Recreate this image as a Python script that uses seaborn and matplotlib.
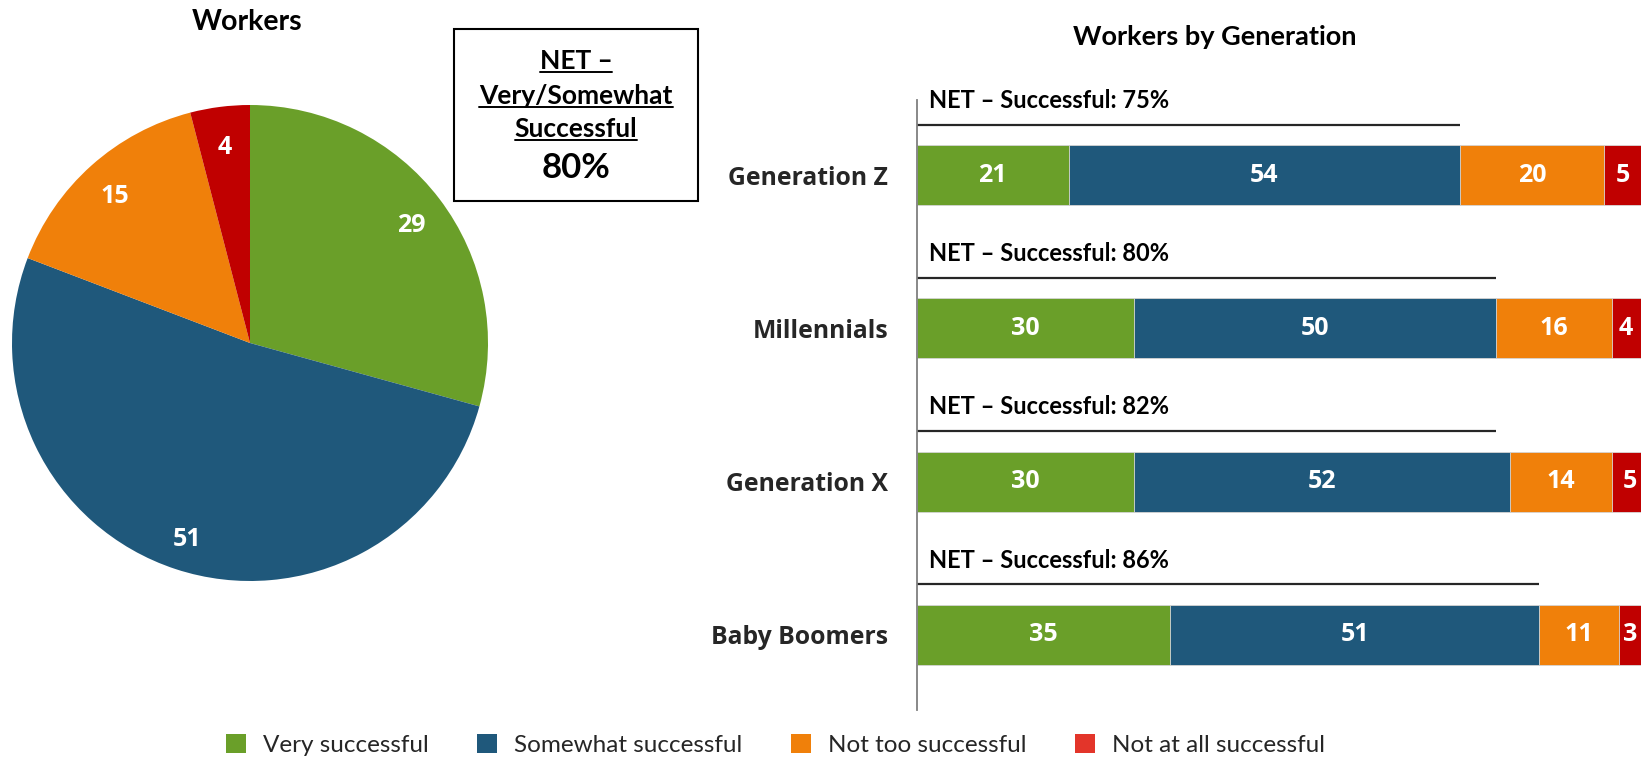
import matplotlib
matplotlib.use("Agg")
import matplotlib.pyplot as plt
import seaborn as sns
import pandas as pd
import numpy as np
from matplotlib.patches import Rectangle, Patch
from matplotlib.lines import Line2D

# ---------------- data ----------------
pie_labels = ["Very successful", "Somewhat successful", "Not too successful", "Not at all successful"]
pie_values = [29, 51, 15, 4]
net_total = 80

generations = ["Generation Z", "Millennials", "Generation X", "Baby Boomers"]
very = [21, 30, 30, 35]
somewhat = [54, 50, 52, 51]
not_too = [20, 16, 14, 11]
not_at_all = [5, 4, 5, 3]
net_values = [75, 80, 82, 86]
net_line_ends = [75, 80, 80, 86]

colors = ["#6A9F29", "#1F587B", "#F0800A", "#C00000"]
legend_colors = ["#6A9F29", "#1F587B", "#F0800A", "#E3352A"]

# ---------------- style ----------------
sns.set_theme(style="white")
plt.rcParams["font.family"] = ["Lato", "DejaVu Sans"]
LABEL_FONT = ["Open Sans", "DejaVu Sans"]

W, H = 1650, 760
fig = plt.figure(figsize=(W / 100, H / 100), dpi=100)
fig.patch.set_facecolor("white")


def fr(x0, y0, x1, y1):
    return [x0 / W, 1 - y1 / H, (x1 - x0) / W, (y1 - y0) / H]


# ---------------- pie ----------------
ax_pie = fig.add_axes(fr(12, 105, 488, 581))
tot = sum(pie_values)
_, _, autotexts = ax_pie.pie(
    pie_values, colors=colors, startangle=90, counterclock=False,
    autopct=lambda p: f"{p * tot / 100:.0f}", pctdistance=0.85,
    textprops=dict(color="white", fontsize=18, fontweight="bold",
                   family=LABEL_FONT),
    wedgeprops=dict(linewidth=0))
for t in autotexts:
    x, y = t.get_position()
    t.set_position((x, y - 0.02))
ax_pie.set_xlim(-1, 1)
ax_pie.set_ylim(-1, 1)
ax_pie.set_aspect("equal")

fig.text(247 / W, 1 - 22 / H, "Workers", ha="center", va="center",
         fontsize=20.5, fontweight="bold", color="black")

# NET box
fig.add_artist(Rectangle((454 / W, 1 - 201 / H), 244 / W, 172 / H,
                         transform=fig.transFigure, fill=False,
                         edgecolor="black", linewidth=1.5))
box_lines = [("NET \u2013", 61, 19, True), ("Very/Somewhat", 96, 19, True),
             ("Successful", 129, 19, True), (f"{net_total}%", 168, 25, False)]
box_texts = []
for s, y, fs, ul in box_lines:
    t = fig.text(576 / W, 1 - y / H, s, ha="center", va="center",
                 fontsize=fs, fontweight="bold", color="black")
    box_texts.append((t, ul))

# ---------------- stacked bars ----------------
ax = fig.add_axes(fr(916.6, 100, 1640.6, 710))
series = [very, somewhat, not_too, not_at_all]
cum = np.cumsum(series, axis=0)
for i in reversed(range(len(series))):
    d = pd.DataFrame({"gen": generations, "val": cum[i]})
    sns.barplot(data=d, x="val", y="gen", orient="h", color=colors[i],
                width=0.39, ax=ax, saturation=1, edgecolor="#D9D9D9",
                linewidth=0.6)

for i in range(len(series)):
    for j in range(len(generations)):
        v = series[i][j]
        ax.text(cum[i][j] - v / 2, j, f"{v}", ha="center", va="center",
                color="white", fontsize=18, fontweight="bold",
                family=LABEL_FONT)

for j in range(len(generations)):
    ax.hlines(j - 0.33, 0, net_line_ends[j], color="#262626", linewidth=1.6,
              clip_on=False)
    ax.text(1.7, j - 0.487, f"NET \u2013 Successful: {net_values[j]}%",
            ha="left", va="center", fontsize=17, fontweight="bold",
            color="black", clip_on=False)

ax.set_xlim(0, 100)
ax.set_ylim(3.49, -0.49)
ax.set_xlabel("")
ax.set_ylabel("")
ax.set_xticks([])
for sp in ["top", "right", "bottom"]:
    ax.spines[sp].set_visible(False)
ax.spines["left"].set_color("#7F7F7F")
ax.spines["left"].set_linewidth(1.3)
ax.tick_params(axis="y", length=0, pad=20.5)
for lab in ax.get_yticklabels():
    lab.set_family(LABEL_FONT)
    lab.set_fontweight("bold")
    lab.set_fontsize(17.8)
    lab.set_color("#262626")

fig.text(1215 / W, 1 - 37 / H, "Workers by Generation", ha="center",
         va="center", fontsize=19.5, fontweight="bold", color="black")

# ---------------- legend ----------------
handles = [Patch(facecolor=c, edgecolor="none") for c in legend_colors]
fig.legend(handles, pie_labels, loc="lower center", bbox_to_anchor=(0.470, 0.0),
           ncol=4, frameon=False, fontsize=17.5, handlelength=0.82,
           handleheight=0.82, handletextpad=0.7, columnspacing=2.0,
           borderpad=0.15, borderaxespad=0.0)

# underlines for box text
fig.canvas.draw()
r = fig.canvas.get_renderer()
for t, ul in box_texts:
    if ul:
        bb = t.get_window_extent(renderer=r)
        yy = bb.y0 + 1
        fig.add_artist(Line2D([bb.x0 / W, bb.x1 / W], [yy / H, yy / H],
                              transform=fig.transFigure, color="black",
                              linewidth=1.4))

fig.savefig("out.png", dpi=100, facecolor="white")
